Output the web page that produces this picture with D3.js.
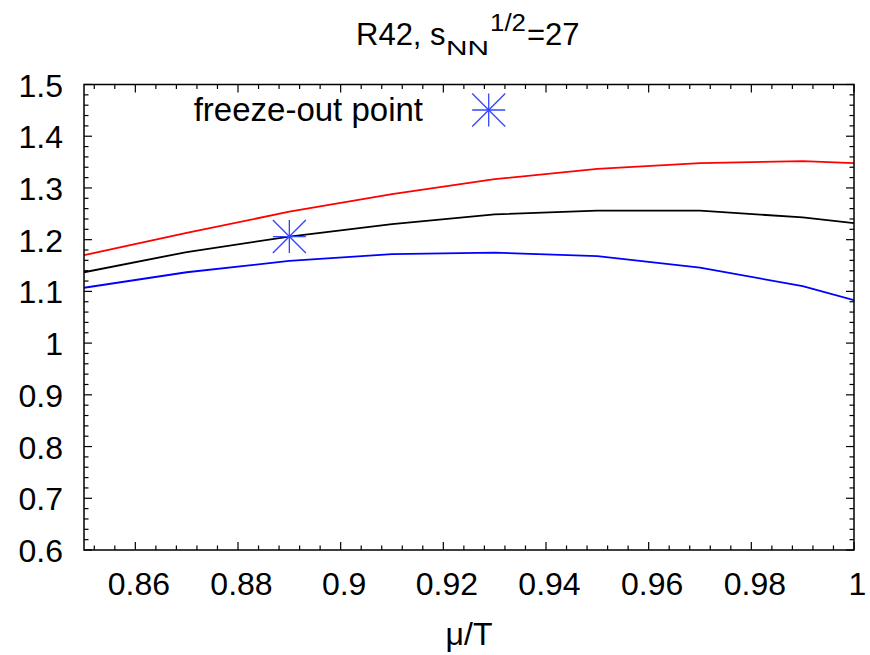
<!DOCTYPE html>
<html>
<head>
<meta charset="utf-8">
<script src="https://cdn.jsdelivr.net/npm/d3@7"></script>
<style>
  body { margin: 0; background: #fff; }
  text { font-family: "Liberation Sans", Arial, Helvetica, sans-serif; }
</style>
</head>
<body>
<div class="chart"></div>
<script>
// data
const muT = [0.85, 0.87, 0.89, 0.91, 0.93, 0.95, 0.97, 0.99, 1.0]
const redR42 = [1.170, 1.213, 1.254, 1.288, 1.317, 1.337, 1.348, 1.352, 1.348]
const blackR42 = [1.137, 1.176, 1.206, 1.230, 1.249, 1.256, 1.256, 1.243, 1.232]
const blueR42 = [1.107, 1.137, 1.159, 1.172, 1.175, 1.168, 1.146, 1.110, 1.083]
const freezeOut = [{ x: 0.89, y: 1.206 }]
const xTicks = [0.86, 0.88, 0.9, 0.92, 0.94, 0.96, 0.98, 1]
const yTicks = [0.6, 0.7, 0.8, 0.9, 1, 1.1, 1.2, 1.3, 1.4, 1.5]

const W = 870, H = 655
const margin = { top: 84.5, right: 16, bottom: 105, left: 84 }
const width = W - margin.left - margin.right
const height = H - margin.top - margin.bottom

const xScale = d3.scaleLinear().domain([0.85, 1]).range([0, width])
const yScale = d3.scaleLinear().domain([0.6, 1.5]).range([height, 0])

const svg = d3.select('.chart')
  .append('svg')
  .attr('width', W)
  .attr('height', H)

const g = svg.append('g')
  .attr('transform', `translate(${margin.left}, ${margin.top})`)

// minor ticks
const xMinor = d3.range(0, 38).map(i => 0.852 + i * 0.004).filter(v => v <= 1.0001)
const yMinor = d3.range(0, 46).map(i => 0.6 + i * 0.02).filter(v => v <= 1.5001)

const ticks = g.append('g').attr('stroke', '#000').attr('stroke-width', 1.2)
xMinor.forEach(v => {
  const major = xTicks.some(t => Math.abs(t - v) < 1e-6)
  const len = major ? 8 : 4.5
  ticks.append('line').attr('x1', xScale(v)).attr('x2', xScale(v)).attr('y1', height).attr('y2', height - len)
  ticks.append('line').attr('x1', xScale(v)).attr('x2', xScale(v)).attr('y1', 0).attr('y2', len)
})
yMinor.forEach(v => {
  const major = yTicks.some(t => Math.abs(t - v) < 1e-6)
  const len = major ? 8 : 4.5
  ticks.append('line').attr('y1', yScale(v)).attr('y2', yScale(v)).attr('x1', 0).attr('x2', len)
  ticks.append('line').attr('y1', yScale(v)).attr('y2', yScale(v)).attr('x1', width).attr('x2', width - len)
})

// axes labels
const xAxis = d3.axisBottom(xScale).tickValues(xTicks).tickSize(0).tickPadding(0)
  .tickFormat(d => d3.format('~g')(d))
g.append('g')
  .attr('transform', `translate(0, ${height})`)
  .call(xAxis)
  .call(a => a.select('.domain').remove())
  .selectAll('text')
  .attr('x', 3).attr('y', 45).attr('dy', 0)
  .style('font-size', '32px')
  .style('font-family', '"Liberation Sans", Arial, sans-serif')
  .attr('fill', '#000')

const yAxis = d3.axisLeft(yScale).tickValues(yTicks).tickSize(0).tickPadding(0)
  .tickFormat(d => d3.format('~g')(d))
g.append('g')
  .call(yAxis)
  .call(a => a.select('.domain').remove())
  .selectAll('text')
  .attr('x', -21).attr('dy', '0.36em')
  .style('font-size', '32px')
  .style('font-family', '"Liberation Sans", Arial, sans-serif')
  .attr('fill', '#000')

// clip
g.append('clipPath').attr('id', 'clip')
  .append('rect').attr('width', width).attr('height', height)

const line = d3.line()
  .x((d, i) => xScale(muT[i]))
  .y(d => yScale(d))

const series = [
  { values: redR42, color: '#ff0000' },
  { values: blackR42, color: '#000000' },
  { values: blueR42, color: '#0000ff' }
]

g.append('g').attr('clip-path', 'url(#clip)')
  .selectAll('.curve')
  .data(series)
  .enter()
  .append('path')
  .attr('class', 'curve')
  .attr('d', d => line(d.values))
  .attr('fill', 'none')
  .attr('stroke', d => d.color)
  .attr('stroke-width', 1.8)

// star marker
function star(sel, cx, cy, r) {
  const s = sel.append('g').attr('stroke', '#3344ff').attr('stroke-width', 1.3)
  s.append('line').attr('x1', cx - r).attr('x2', cx + r).attr('y1', cy).attr('y2', cy)
  s.append('line').attr('x1', cx).attr('x2', cx).attr('y1', cy - r).attr('y2', cy + r)
  s.append('line').attr('x1', cx - r).attr('x2', cx + r).attr('y1', cy - r).attr('y2', cy + r)
  s.append('line').attr('x1', cx - r).attr('x2', cx + r).attr('y1', cy + r).attr('y2', cy - r)
}
freezeOut.forEach(p => star(g, xScale(p.x), yScale(p.y), 16.5))

// border
g.append('rect')
  .attr('width', width).attr('height', height)
  .attr('fill', 'none').attr('stroke', '#000').attr('stroke-width', 1.5)

// legend
svg.append('text')
  .attr('x', 423).attr('y', 121)
  .attr('text-anchor', 'end')
  .style('font-size', '33px')
  .text('freeze-out point')
star(svg, 488.7, 110, 16.5)

// title
const title = svg.append('text')
  .attr('y', 45)
  .style('font-size', '31px')
title.append('tspan').attr('x', 356).text('R42, s')
title.append('tspan').attr('x', 446).attr('y', 55)
  .attr('textLength', 43).attr('lengthAdjust', 'spacingAndGlyphs')
  .style('font-size', '21px').text('NN')
title.append('tspan').attr('x', 490).attr('y', 31)
  .attr('textLength', 36).attr('lengthAdjust', 'spacingAndGlyphs')
  .style('font-size', '23px').text('1/2')
title.append('tspan').attr('x', 527).attr('y', 45).text('=27')

// x label
svg.append('text')
  .attr('x', 469).attr('y', 645)
  .attr('text-anchor', 'middle')
  .style('font-size', '32px')
  .text('μ/T')
</script>
</body>
</html>
